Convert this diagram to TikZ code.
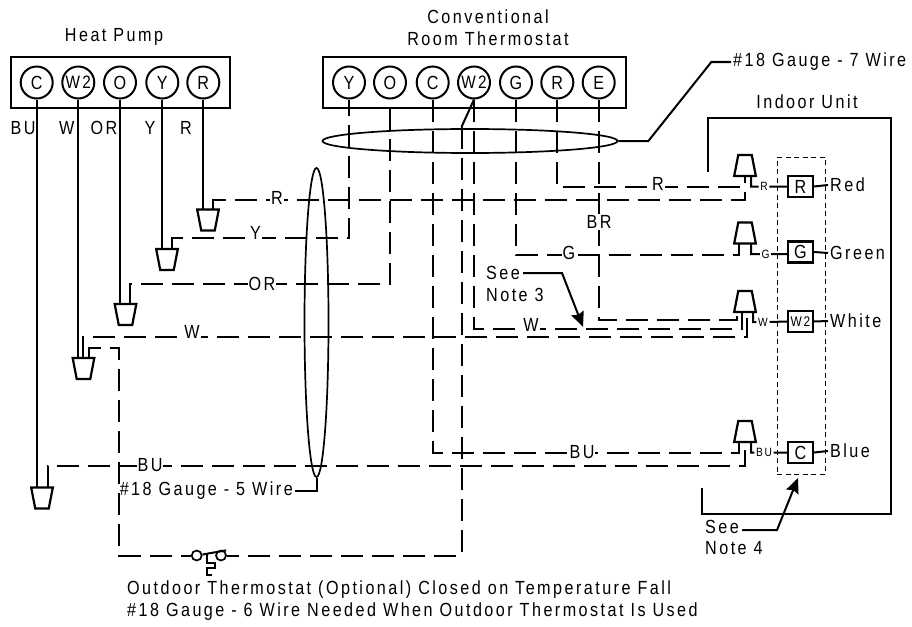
\documentclass[tikz,border=0pt]{standalone}
\usepackage{fontspec}
\setmainfont[LetterSpace=13,FakeStretch=0.85]{Liberation Sans}
\usetikzlibrary{arrows.meta, positioning, shapes.geometric}

\begin{document}
\begin{tikzpicture}[x=1pt, y=-1pt]
	\tikzset{
		every node/.style={font=\fontsize{19}{22}\selectfont},
		wire/.style={line width=2pt, dash pattern=on 22pt off 9pt},
		solidwire/.style={line width=2pt},
		strip/.style={draw, line width=2.2pt, minimum width=219pt, minimum height=51pt, inner sep=0pt},
		term/.style={draw, circle, line width=2pt, minimum size=32pt, inner sep=0pt, font=\fontsize{19}{20}\selectfont},
		cupdown/.style={draw, trapezium, trapezium angle=79, shape border rotate=180, line width=2.2pt, inner sep=0pt, text width=13.5pt, text height=15pt, text depth=6pt, outer sep=0pt},
		cupup/.style={draw, trapezium, trapezium angle=79, line width=2.2pt, inner sep=0pt, text width=13.5pt, text height=15pt, text depth=6pt, outer sep=0pt},
		pin/.style={draw, line width=2.2pt, minimum width=25pt, minimum height=21pt, inner sep=0pt},
		tag/.style={inner sep=1.5pt, font=\fontsize{12}{12}\selectfont},
		cable/.style={draw, ellipse, line width=1.7pt, inner sep=0pt},
		lbl/.style={fill=white, inner sep=1pt},
		note/.style={-{Stealth[length=15pt, width=13pt, inset=2pt]}, line width=2pt}
	}

	\useasboundingbox (0,0) rectangle (912,626);

	\node[strip] (hpstrip) at (120.5,82.5) {};
	\node[strip, minimum width=303pt] (thstrip) at (474.5,82.5) {};
	\node (hptitle) at (114,37) {Heat Pump};
	\node[align=center] (thtitle) at (488,28) {Conventional\\Room Thermostat};

	\node[term] (hpC) at (36.7,82.5) {C};
	\node[term, font=\fontsize{18}{20}\selectfont] (hpW) at (78.3,82.5) {W2};
	\node[term] (hpO) at (120,82.5) {O};
	\node[term] (hpY) at (162.3,82.5) {Y};
	\node[term] (hpR) at (203.3,82.5) {R};

	\node[term] (thY) at (349,82.5) {Y};
	\node[term] (thO) at (390,82.5) {O};
	\node[term] (thC) at (432.7,82.5) {C};
	\node[term, font=\fontsize{18}{20}\selectfont] (thW) at (474,82.5) {W2};
	\node[term] (thG) at (516,82.5) {G};
	\node[term] (thR) at (557.3,82.5) {R};
	\node[term] (thE) at (598.7,82.5) {E};

	\node[cupdown] (cupHpR) at (208,220) {};
	\node[cupdown] (cupHpY) at (167,259.5) {};
	\node[cupdown] (cupHpO) at (125.5,314.5) {};
	\node[cupdown] (cupHpW) at (83.5,368.5) {};
	\node[cupdown] (cupHpC) at (42,498) {};

	\node[cupup] (cupInR) at (745,165.5) {};
	\node[cupup] (cupInG) at (745,233) {};
	\node[cupup] (cupInW) at (745,301.5) {};
	\node[cupup] (cupInC) at (745,431.5) {};

	\node[draw, line width=1pt, dash pattern=on 5pt off 3.5pt, minimum width=48pt, minimum height=317pt] (notebox) at (801,315.5) {};

	\node[pin] (boxR) at (800.5,186.5) {R};
	\node[pin] (boxG) at (800.5,252) {G};
	\node[pin, font=\fontsize{14}{14}\selectfont] (boxW) at (800.5,321.5) {W2};
	\node[pin] (boxC) at (800.5,452.5) {C};

	\node[tag] (tagR) at (764,186.5) {R};
	\node[tag] (tagG) at (765.5,254) {G};
	\node[tag] (tagW) at (763,322) {W};
	\node[tag] (tagC) at (764,452.5) {BU};

	\node[anchor=west, inner sep=2pt] (txtR) at (828,185) {Red};
	\node[anchor=west, inner sep=2pt] (txtG) at (828,253) {Green};
	\node[anchor=west, inner sep=2pt] (txtW) at (828,321) {White};
	\node[anchor=west, inner sep=2pt] (txtC) at (828,451) {Blue};

	\node[draw, circle, line width=1.7pt, minimum size=10pt, inner sep=0pt] (swA) at (196.7,555.5) {};
	\node[draw, circle, line width=1.7pt, minimum size=10pt, inner sep=0pt] (swB) at (221,555.5) {};
	\coordinate (bulb) at (207,553);
	\coordinate (thWbend) at (461.5,127);
	\coordinate (unitA) at (708,172);
	\coordinate (unitB) at (702,488);
	\coordinate (noteA) at (583,327);
	\coordinate (noteB) at (798,478);

	% heat pump to cups
	\draw[solidwire] (hpC.south) -- (hpC |- cupHpC.north);
	\draw[solidwire] (hpW.south) -- (hpW |- cupHpW.north);
	\draw[solidwire, line width=1.4pt] (hpO.south) -- (hpO |- cupHpO.north);
	\draw[solidwire] (hpY.south) -- (hpY |- cupHpY.north);
	\draw[solidwire] (hpR.south) -- (hpR |- cupHpR.north);

	% field wires
	\draw[wire] ([xshift=5pt]cupHpR.north) -- ++(0,-9.5) -| (cupInR.south);
	\draw[wire] ([xshift=5pt]cupHpY.north) -- ++(0,-11) -| (thY.south);
	\draw[wire] ([xshift=4.5pt]cupHpO.north) -- ++(0,-20) -| (thO.south);
	\draw[wire] ([xshift=-.5pt]cupHpW.north) -- ++(0,-21) -| ([xshift=2pt]cupInW.south);
	\draw[wire] ([xshift=5pt]cupHpW.north) -- ++(0,-10) -| (119.3,555.5) -- (swA.west);
	\draw[wire] ([xshift=5.5pt]cupHpC.north) -- ++(0,-22) -| (cupInC.south);
	\draw[solidwire] (thW.south) -- (thWbend);
	\draw[wire] (thWbend) |- (swB.east);
	\draw[wire] (thC.south) -- ++(0,353) -| ([xshift=-6pt]cupInC.south);
	\draw[wire] (thW.south) -- ++(0,229.5) -| ([xshift=-3pt]cupInW.south);
	\draw[wire] (thG.south) -- ++(0,155.5) -| ([xshift=-6pt]cupInG.south);
	\draw[wire] (thR.south) -- ++(0,87.5) -| ([xshift=-6pt]cupInR.south);
	\draw[wire] (thE.south) -- ++(0,220.5) -| ([xshift=-8pt]cupInW.south);

	% unit side
	\draw[solidwire] ([xshift=6pt]cupInR.south) |- (tagR.west) (tagR.east) -- (boxR.west) (boxR.east) -- (txtR.west);
	\draw[solidwire] ([xshift=6pt]cupInG.south) |- (tagG.west) (tagG.east) -- (boxG.west |- tagG) (boxG.east) -- (txtG.west);
	\draw[solidwire] ([xshift=8pt]cupInW.south) |- (tagW.west) (tagW.east) -- (boxW.west) (boxW.east) -- (txtW.west);
	\draw[solidwire] ([xshift=6pt]cupInC.south) |- (tagC.west) (tagC.east) -- (boxC.west) (boxC.east) -- (txtC.west);

	% switch
	\draw[solidwire] ([yshift=1pt]swA.east) -- ([xshift=1pt,yshift=1pt]swB.north east);
	\draw[line width=2.2pt] (bulb) -- ++(0,10) -- ++(8,0) -- ++(0,5) -- ++(-8,0) -- ++(0,7) -- ++(5,0);

	% cables
	\node[cable, minimum width=295pt, minimum height=24pt] (cableTh) at (470,141) {};
	\node[cable, minimum width=24pt, minimum height=309pt] (cableHp) at (316.5,322.5) {};
	\node[anchor=west, inner sep=2pt] (lblTh) at (731,62) {\#18 Gauge - 7 Wire};
	\node[anchor=east, inner sep=2pt] (lblHp) at (295,491) {\#18 Gauge - 5 Wire};
	\draw[solidwire] (cableTh.east) -- ++(30,0) -- ++(63,-79) -- (lblTh.west);
	\draw[solidwire] (cableHp.south) |- (lblHp.east);

	% indoor unit
	\node (unittitle) at (807,102) {Indoor Unit};
	\draw[solidwire, line width=2.2pt] (unitA) |- (891,118) |- (702,514) -- (unitB);

	% wire letters
	\node (hpLabC) at (23,128) {BU};
	\node (hpLabW) at (66.7,128) {W};
	\node (hpLabO) at (104,128) {OR};
	\node (hpLabY) at (150,128) {Y};
	\node (hpLabR) at (186,128) {R};
	\node[lbl] (wR) at (277,198) {R};
	\node[lbl] (wY) at (255.5,233) {Y};
	\node[lbl] (wO) at (262,284) {OR};
	\node[lbl] (wW) at (192,332) {W};
	\node[lbl] (wC) at (150,465) {BU};
	\node[lbl] (wR2) at (658,184) {R};
	\node[lbl] (wG) at (569,253) {G};
	\node[lbl] (wW2) at (531,325) {W};
	\node[lbl] (wC2) at (582,452) {BU};
	\node[lbl] (wE) at (599,222) {BR};

	% notes
	\node[anchor=west, inner sep=3pt] (see3) at (483,273) {See};
	\node[anchor=west, inner sep=3pt] (num3) at (483,295) {Note 3};
	\draw[note] (see3.east) -- (562,273) -- (noteA);
	\node[anchor=west, inner sep=3pt] (see4) at (702,527) {See};
	\node[anchor=west, inner sep=3pt] (num4) at (702,548) {Note 4};
	\draw[note] ([yshift=-3pt]see4.east) -- (777,530) -- (noteB);
	\node[anchor=west, inner sep=0pt, align=left] (outdoor) at (127,601) {Outdoor Thermostat (Optional) Closed on Temperature Fall\\\#18 Gauge - 6 Wire Needed When Outdoor Thermostat Is Used};
\end{tikzpicture}
\end{document}
